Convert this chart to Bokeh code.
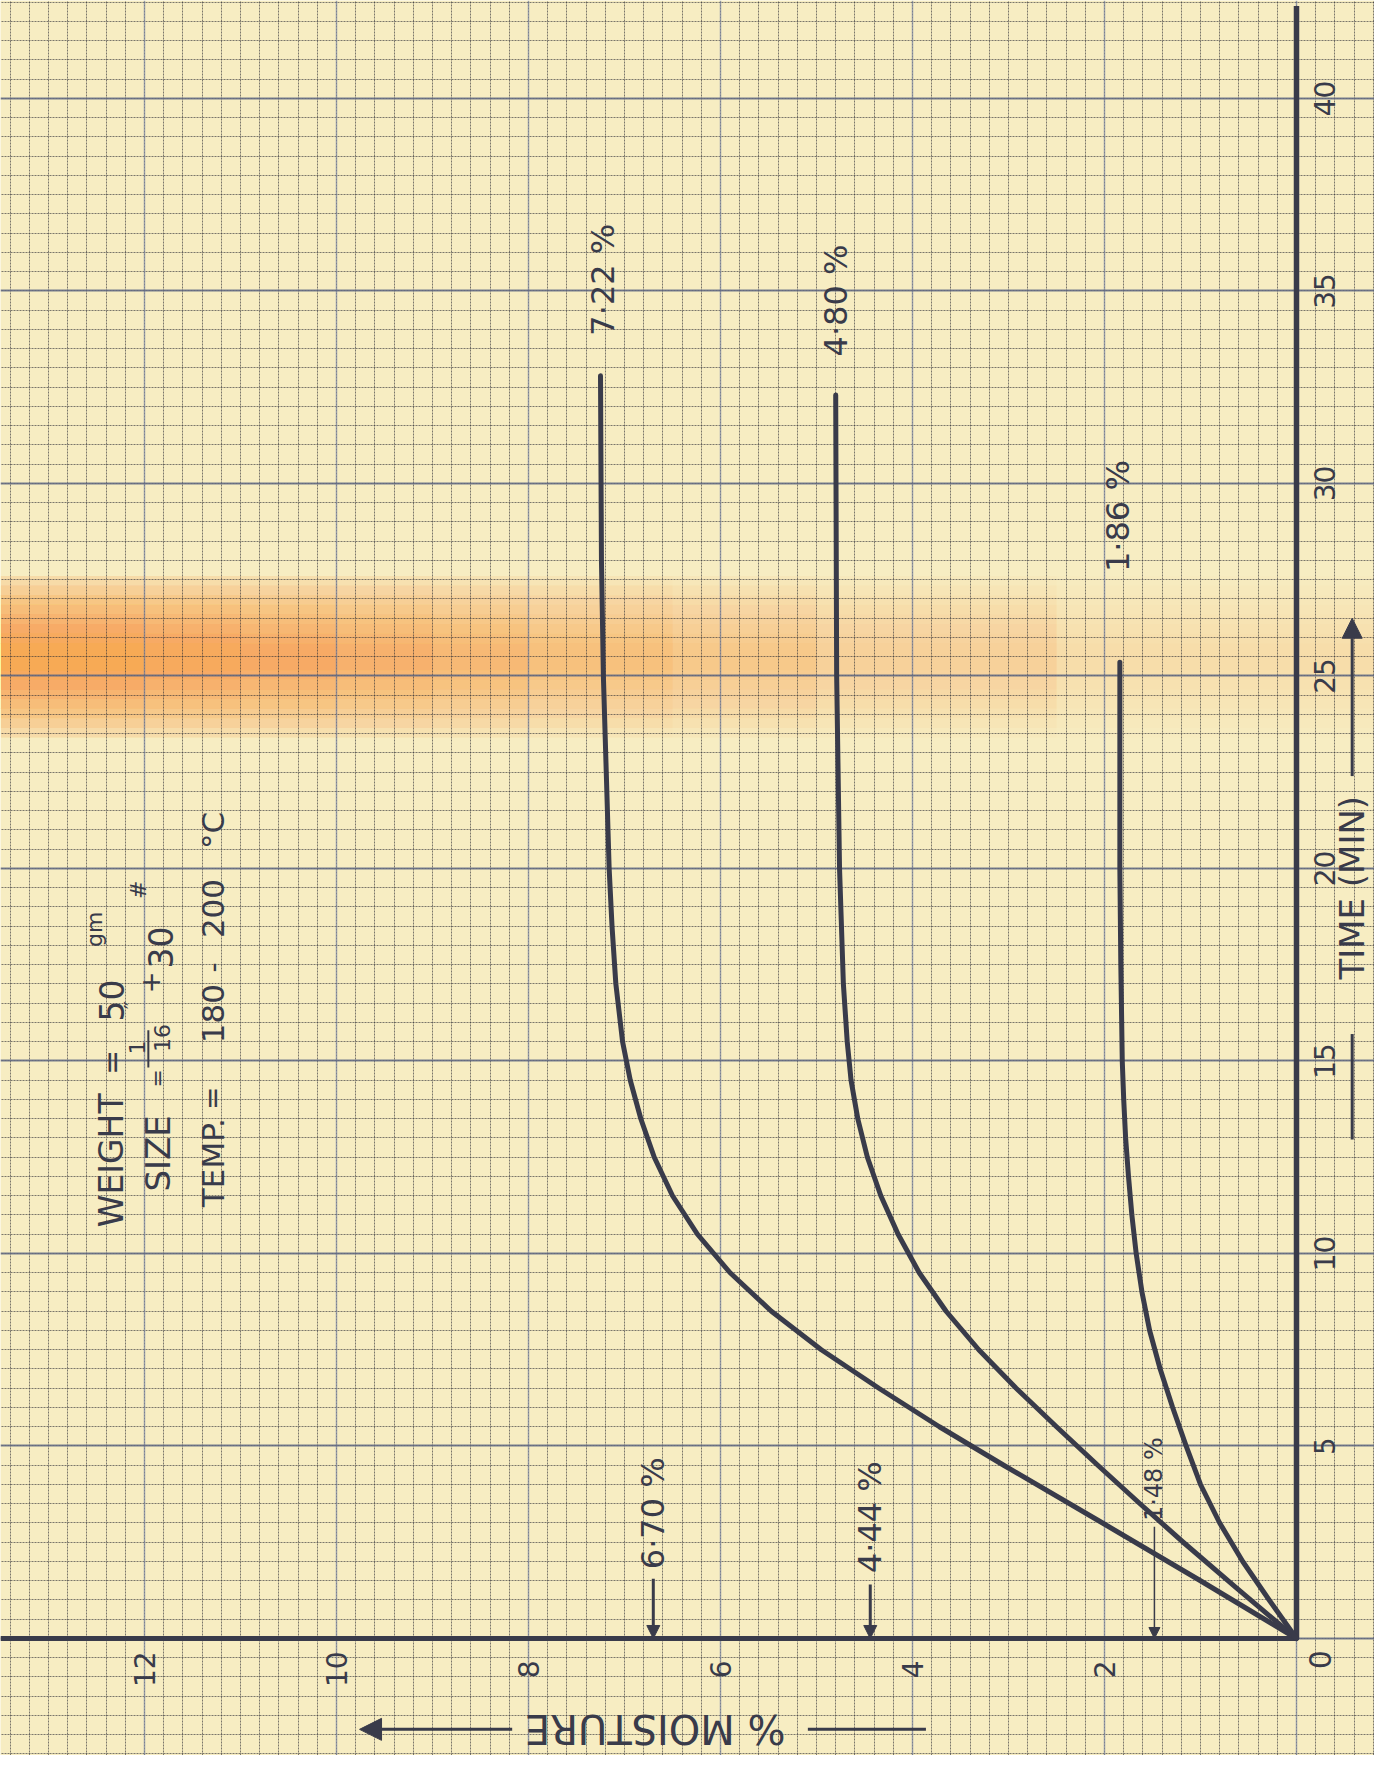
import math
from bokeh.plotting import figure
from bokeh.models import Range1d, Grid, SingleIntervalTicker, Arrow, NormalHead, ColumnDataSource
from bokeh.core.properties import value
from bokeh.embed import file_html
from bokeh.resources import INLINE

# ---------------- data ----------------
time_722 = [0, 1.5, 3.0, 4.5, 5.5, 6.5, 7.5, 8.5, 9.5, 10.5, 11.5, 12.5, 13.5, 14.5, 15.5,
            17.0, 18.5, 20.0, 22.5, 25.0, 28.0, 32.8]
moist_722 = [0, 1.00, 2.02, 3.05, 3.72, 4.35, 4.95, 5.47, 5.90, 6.24, 6.50, 6.69, 6.83, 6.94, 7.02,
             7.09, 7.13, 7.16, 7.19, 7.22, 7.24, 7.25]

time_480 = [0, 1.3, 2.5, 3.5, 4.5, 5.5, 6.5, 7.5, 8.5, 9.5, 10.5, 11.5, 12.5, 13.5, 14.5, 15.5,
            17.0, 20.0, 25.0, 32.3]
moist_480 = [0, 0.62, 1.18, 1.63, 2.07, 2.50, 2.92, 3.31, 3.65, 3.93, 4.15, 4.33, 4.47, 4.57, 4.64, 4.68,
             4.72, 4.76, 4.79, 4.80]

time_186 = [0, 1, 2, 3, 4, 5, 6, 7, 8, 9, 10, 11, 12, 13, 14, 15, 17.5, 20.0, 25.36]
moist_186 = [0, 0.285, 0.56, 0.80, 1.00, 1.15, 1.29, 1.42, 1.53, 1.61, 1.67, 1.715, 1.75, 1.78, 1.80,
             1.815, 1.83, 1.84, 1.84]

final_labels = ["7·22 %", "4·80 %", "1·86 %"]
final_values = [7.22, 4.80, 1.86]

marked_labels = ["6·70 %", "4·44 %", "1·48 %"]
marked_values = [6.70, 4.44, 1.48]

moisture_ticks = [2, 4, 6, 8, 10, 12]
time_ticks = [5, 10, 15, 20, 25, 30, 35, 40]

# ---------------- style ----------------
INK = "#393b4a"
PAPER = "#f7edc2"
FONT = value("DejaVu Sans")
UP = math.pi / 2

p = figure(width=1374, height=1755,
           x_range=Range1d(13.5, -0.8125), y_range=Range1d(-3.039, 42.545),
           x_axis_type=None, y_axis_type=None,
           toolbar_location=None, output_backend="svg",
           min_border=0, outline_line_color=None,
           background_fill_color=PAPER, border_fill_color=PAPER)

# soft orange stain on the paper (many faint layered bands give a gradient)
band_l, band_r, band_b, band_t = [], [], [], []
for half in (2.1, 1.85, 1.6, 1.35, 1.1, 0.85, 0.6, 0.35):
    for right in (-0.8125, 2.5, 5.0, 6.5, 8.0, 9.0, 10.0, 11.0, 12.0):
        band_l.append(13.5)
        band_r.append(right)
        band_b.append(25.5 - half)
        band_t.append(25.5 + half)
p.quad(left=band_l, right=band_r, bottom=band_b, top=band_t,
       fill_color="#eca445", fill_alpha=0.022, line_color=None, level="image")

# graph paper
p.add_layout(Grid(dimension=0, ticker=SingleIntervalTicker(interval=0.2),
                  grid_line_color="#2f2f35", grid_line_alpha=0.62, grid_line_width=1, grid_line_dash="2 1"))
p.add_layout(Grid(dimension=1, ticker=SingleIntervalTicker(interval=0.5),
                  grid_line_color="#2f2f35", grid_line_alpha=0.62, grid_line_width=1, grid_line_dash="2 1"))
p.add_layout(Grid(dimension=0, ticker=SingleIntervalTicker(interval=2),
                  grid_line_color="#7c88aa", grid_line_alpha=0.6, grid_line_width=1.6))
p.add_layout(Grid(dimension=1, ticker=SingleIntervalTicker(interval=5),
                  grid_line_color="#626a84", grid_line_alpha=0.85, grid_line_width=2))

# axes drawn on the paper
p.line(x=[13.5, 0], y=[0, 0], line_color=INK, line_width=5)
p.line(x=[0, 0], y=[0, 42.4], line_color=INK, line_width=5.5)

# curves
for tt, mm in ((time_722, moist_722), (time_480, moist_480), (time_186, moist_186)):
    p.line(x=mm, y=tt, line_color=INK, line_width=5, line_cap="round", line_join="round")

# curve end labels
p.text(x=final_values, y=[33.84, 33.3, 27.7], text=final_labels, angle=UP,
       text_align="left", text_baseline="middle", text_font=FONT,
       text_font_size="32px", text_color=INK)

# marked values with arrows
src_big = ColumnDataSource(dict(x=marked_values[:2], y0=[1.55, 1.40], y1=[0, 0]))
p.add_layout(Arrow(end=NormalHead(size=13, fill_color=INK, line_color=INK),
                   x_start="x", y_start="y0", x_end="x", y_end="y1", source=src_big,
                   line_color=INK, line_width=3))
src_small = ColumnDataSource(dict(x=marked_values[2:], y0=[2.9], y1=[0]))
p.add_layout(Arrow(end=NormalHead(size=11, fill_color=INK, line_color=INK),
                   x_start="x", y_start="y0", x_end="x", y_end="y1", source=src_small,
                   line_color=INK, line_width=1.5))
p.text(x=marked_values[:2], y=[1.8, 1.7], text=marked_labels[:2], angle=UP,
       text_align="left", text_baseline="middle", text_font=FONT,
       text_font_size="32px", text_color=INK)
p.text(x=marked_values[2:], y=[3.05], text=marked_labels[2:], angle=UP,
       text_align="left", text_baseline="middle", text_font=FONT,
       text_font_size="24px", text_color=INK)

# tick labels
p.text(x=moisture_ticks, y=[-0.8] * len(moisture_ticks), text=[str(v) for v in moisture_ticks],
       angle=UP, text_align="center", text_baseline="middle", text_font=FONT,
       text_font_size="28px", text_color=INK)
p.text(x=[-0.29] * len(time_ticks), y=time_ticks, text=[str(v) for v in time_ticks],
       angle=UP, text_align="center", text_baseline="middle", text_font=FONT,
       text_font_size="28px", text_color=INK)
p.text(x=[-0.24], y=[-0.55], text=["0"], angle=UP, text_align="center", text_baseline="middle",
       text_font=FONT, text_font_size="30px", text_color=INK)

# axis titles
p.text(x=[-0.58], y=[19.5], text=["TIME (MIN)"], angle=UP, text_align="center",
       text_baseline="middle", text_font=FONT, text_font_size="34px", text_color=INK)
p.line(x=[-0.58, -0.58], y=[12.96, 15.7], line_color=INK, line_width=3)
p.add_layout(Arrow(end=NormalHead(size=20, fill_color=INK, line_color=INK),
                   x_start=-0.58, y_start=22.4, x_end=-0.58, y_end=26.5,
                   line_color=INK, line_width=3))

p.text(x=[6.68], y=[-2.36], text=["% MOISTURE"], angle=math.pi, text_align="center",
       text_baseline="middle", text_font=FONT, text_font_size="40px", text_color=INK)
p.add_layout(Arrow(end=NormalHead(size=22, fill_color=INK, line_color=INK),
                   x_start=8.17, y_start=-2.36, x_end=9.76, y_end=-2.36,
                   line_color=INK, line_width=3))
p.line(x=[5.09, 3.86], y=[-2.36, -2.36], line_color=INK, line_width=3)

# test conditions note
notes = [
    ("WEIGHT", 12.34, 12.42, "33px"), ("=", 12.34, 14.96, "30px"), ("50", 12.34, 16.57, "33px"),
    ("gm", 12.52, 18.42, "22px"),
    ("SIZE", 11.86, 12.6, "34px"), ("=", 11.86, 14.55, "22px"), ("1", 12.08, 15.35, "22px"),
    ("16", 11.82, 15.6, "22px"), ("″", 12.12, 16.45, "22px"), ("+", 11.94, 17.04, "26px"),
    ("30", 11.83, 17.95, "33px"), ("#", 12.06, 19.45, "22px"),
    ("TEMP.", 11.29, 12.36, "31px"), ("=", 11.29, 14.03, "28px"), ("180", 11.29, 16.23, "31px"),
    ("-", 11.29, 17.43, "28px"), ("200", 11.29, 18.96, "31px"), ("°C", 11.29, 20.99, "31px"),
]
for txt, mx, ty, fs in notes:
    p.text(x=[mx], y=[ty], text=[txt], angle=UP, text_align="center", text_baseline="middle",
           text_font=FONT, text_font_size=fs, text_color=INK)
p.line(x=[11.96, 11.96], y=[14.83, 15.8], line_color=INK, line_width=2)

open("out.html", "w").write(file_html(p, INLINE))
